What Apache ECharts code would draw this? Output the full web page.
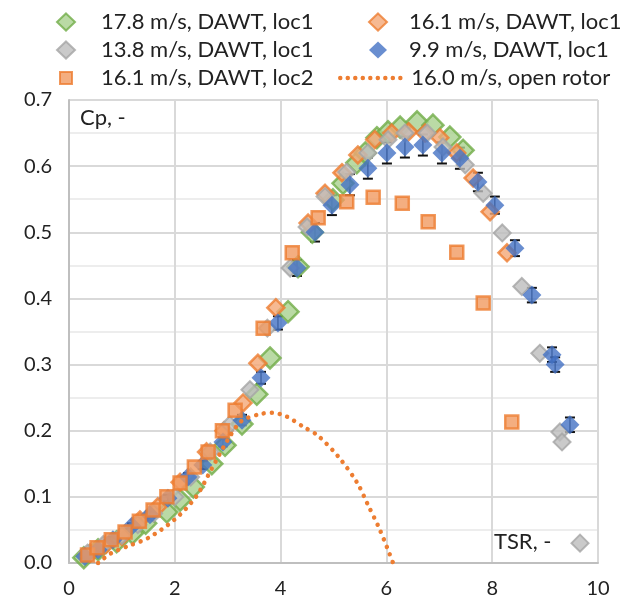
<!DOCTYPE html>
<html>
<head>
<meta charset="utf-8">
<script src="https://cdn.jsdelivr.net/npm/echarts@6/dist/echarts.min.js"></script>
<style>
html,body{margin:0;padding:0;background:#fff;}
#chart{width:633px;height:608px;}
</style>
</head>
<body>
<div id="chart"></div>
<script>
// ---- data (TSR, Cp) ----
const greenTSR = [0.28, 0.55, 0.9, 1.2, 1.45, 1.85, 2.1, 2.35, 2.7, 2.95, 3.27, 3.55, 3.8, 4.14, 4.33, 4.6, 4.99, 5.18, 5.44, 5.6, 5.82, 6.03, 6.26, 6.58, 6.88, 7.2, 7.45];
const greenCp  = [0.008, 0.02, 0.032, 0.045, 0.06, 0.077, 0.095, 0.115, 0.15, 0.178, 0.21, 0.255, 0.31, 0.38, 0.448, 0.5, 0.549, 0.574, 0.605, 0.62, 0.643, 0.652, 0.659, 0.667, 0.662, 0.644, 0.624];

const orangeTSR = [0.4, 0.7, 1.0, 1.34, 1.68, 2.1, 2.6, 2.93, 3.29, 3.57, 3.91, 4.52, 4.84, 5.16, 5.46, 5.78, 6.1, 6.42, 6.73, 7.01, 7.33, 7.64, 7.96, 8.28];
const orangeCp  = [0.015, 0.028, 0.04, 0.065, 0.085, 0.122, 0.168, 0.2, 0.242, 0.302, 0.386, 0.514, 0.559, 0.59, 0.617, 0.64, 0.65, 0.652, 0.65, 0.643, 0.62, 0.582, 0.531, 0.469];

const grayTSR = [0.35, 0.65, 1.0, 1.3, 1.6, 2.0, 2.3, 2.67, 3.04, 3.42, 3.75, 4.18, 4.5, 4.84, 5.25, 5.65, 6.03, 6.35, 6.77, 7.07, 7.49, 7.83, 8.19, 8.56, 8.9, 9.28, 9.32, 9.66];
const grayCp  = [0.015, 0.028, 0.042, 0.058, 0.075, 0.1, 0.13, 0.168, 0.209, 0.262, 0.355, 0.446, 0.508, 0.554, 0.591, 0.62, 0.64, 0.65, 0.65, 0.629, 0.602, 0.559, 0.499, 0.418, 0.317, 0.198, 0.183, 0.03];

const blueTSR = [0.3, 0.55, 0.83, 1.19, 1.53, 1.87, 2.25, 2.53, 2.91, 3.27, 3.63, 3.95, 4.31, 4.65, 4.97, 5.31, 5.65, 6.01, 6.35, 6.69, 7.05, 7.39, 7.73, 8.05, 8.43, 8.75, 9.13, 9.19, 9.47];
const blueCp  = [0.01, 0.02, 0.035, 0.056, 0.073, 0.098, 0.13, 0.148, 0.183, 0.216, 0.28, 0.363, 0.446, 0.5, 0.541, 0.572, 0.597, 0.62, 0.629, 0.632, 0.62, 0.612, 0.576, 0.541, 0.476, 0.405, 0.315, 0.3, 0.209];
const blueErr = [0.003, 0.003, 0.004, 0.004, 0.005, 0.005, 0.006, 0.006, 0.007, 0.008, 0.009, 0.01, 0.012, 0.014, 0.015, 0.016, 0.016, 0.016, 0.016, 0.016, 0.016, 0.016, 0.014, 0.013, 0.012, 0.011, 0.011, 0.011, 0.011];

const squareTSR = [0.35, 0.53, 0.8, 1.06, 1.33, 1.59, 1.85, 2.1, 2.37, 2.63, 2.9, 3.14, 3.67, 4.22, 4.71, 5.25, 5.75, 6.3, 6.79, 7.33, 7.83, 8.37];
const squareCp  = [0.012, 0.023, 0.035, 0.047, 0.063, 0.08, 0.1, 0.121, 0.145, 0.168, 0.2, 0.231, 0.355, 0.469, 0.522, 0.546, 0.553, 0.544, 0.516, 0.47, 0.393, 0.213];

const rotorTSR = [0.55, 0.8, 1.1, 1.5, 2.0, 2.4, 2.7, 3.0, 3.25, 3.6, 3.85, 4.1, 4.45, 4.7, 5.1, 5.45, 5.65, 5.85, 6.02, 6.15];
const rotorCp  = [0.0, 0.015, 0.025, 0.038, 0.066, 0.1, 0.143, 0.186, 0.214, 0.225, 0.227, 0.222, 0.205, 0.193, 0.16, 0.121, 0.088, 0.055, 0.022, -0.005];

const names = ['17.8 m/s, DAWT, loc1', '16.1 m/s, DAWT, loc1', '13.8 m/s, DAWT, loc1', '9.9 m/s, DAWT, loc1', '16.1 m/s, DAWT, loc2', '16.0 m/s, open rotor'];
const xTicks = {min: 0, max: 10, interval: 2};
const yTicks = {min: 0, max: 0.7, interval: 0.1};

function pairs(xs, ys) { return xs.map((x, i) => [x, ys[i]]); }

const FONT = 'Lato';
const chart = echarts.init(document.getElementById('chart'));
function legendOf(left, top, data, itemWidth, itemHeight, padLeft) {
  return {
    orient: 'vertical', left: left, top: top, itemWidth: itemWidth, itemHeight: itemHeight, itemGap: 6,
    textStyle: {fontFamily: FONT, fontSize: 22, lineHeight: 22, color: '#222', padding: [0, 0, 0, padLeft]},
    selectedMode: false, data: data
  };
}
chart.setOption({
  animation: false,
  grid: {left: 69, right: 35, top: 100, bottom: 45},
  legend: [
    legendOf(51, 6, [names[0], names[2]], 18, 17, 21),
    legendOf(54, 62, [names[4]], 12, 12, 24),
    legendOf(363, 6, [names[1], names[3]], 18, 17, 17),
    legendOf(333, 62, [{name: names[5], itemStyle: {opacity: 0},
      lineStyle: {width: 4.5, color: '#ED7D31', type: [0.01, 7.5], cap: 'round'}}], 66, 17, 0)
  ],
  xAxis: {
    type: 'value', min: xTicks.min, max: xTicks.max, interval: xTicks.interval,
    axisLine: {show: true, lineStyle: {color: '#BFBFBF', width: 2}},
    axisTick: {show: false},
    axisLabel: {fontFamily: FONT, fontSize: 20, color: '#222', margin: 16},
    splitLine: {show: true, lineStyle: {color: '#D9D9D9', width: 2}}
  },
  yAxis: {
    type: 'value', min: yTicks.min, max: yTicks.max, interval: yTicks.interval,
    axisLine: {show: true, lineStyle: {color: '#BFBFBF', width: 2}},
    axisTick: {show: false},
    axisLabel: {fontFamily: FONT, fontSize: 20, color: '#222', margin: 17, formatter: v => v.toFixed(1)},
    splitLine: {show: true, lineStyle: {color: '#D9D9D9', width: 2}},
    minorTick: {show: false, splitNumber: 2},
    minorSplitLine: {show: true, lineStyle: {color: '#EDEDED', width: 2}}
  },
  graphic: [
    {type: 'text', left: 80, top: 107, style: {text: 'Cp, -', font: '22px ' + FONT, fill: '#222'}},
    {type: 'text', left: 494, top: 531, style: {text: 'TSR, -', font: '22px ' + FONT, fill: '#222'}}
  ],
  series: [
    {name: names[0], type: 'scatter', symbol: 'diamond', symbolSize: 21, data: pairs(greenTSR, greenCp),
     itemStyle: {color: '#A9D18E', borderColor: '#70AD47', borderWidth: 2.5}},
    {name: names[1], type: 'scatter', symbol: 'diamond', symbolSize: 17, data: pairs(orangeTSR, orangeCp),
     itemStyle: {color: '#F4A877', borderColor: '#ED7D31', borderWidth: 2.5}},
    {name: names[2], type: 'scatter', symbol: 'diamond', symbolSize: 17, data: pairs(grayTSR, grayCp),
     itemStyle: {color: '#BDBDBD', borderColor: '#A5A5A5', borderWidth: 2}},
    {type: 'custom', data: blueTSR.map((x, i) => [x, blueCp[i], blueErr[i]]), silent: true,
     renderItem: (params, api) => {
       const x = api.value(0), y = api.value(1), e = api.value(2);
       const lo = api.coord([x, y - e]), hi = api.coord([x, y + e]);
       const c = 5;
       return {type: 'group', children: [
         {type: 'line', shape: {x1: lo[0], y1: lo[1], x2: hi[0], y2: hi[1]}, style: {stroke: '#111', lineWidth: 1.2}},
         {type: 'line', shape: {x1: lo[0]-c, y1: lo[1], x2: lo[0]+c, y2: lo[1]}, style: {stroke: '#111', lineWidth: 2}},
         {type: 'line', shape: {x1: hi[0]-c, y1: hi[1], x2: hi[0]+c, y2: hi[1]}, style: {stroke: '#111', lineWidth: 2}}
       ]};
     }},
    {name: names[3], type: 'scatter', symbol: 'diamond', symbolSize: 19, data: pairs(blueTSR, blueCp),
     itemStyle: {color: '#4472C4'}},
    {name: names[4], type: 'scatter', symbol: 'rect', symbolSize: 13, data: pairs(squareTSR, squareCp),
     itemStyle: {color: '#F19A60', borderColor: '#ED7D31', borderWidth: 2.5}},
    {name: names[5], type: 'line', data: pairs(rotorTSR, rotorCp), symbol: 'none', showSymbol: false, smooth: 0.3, clip: false,
     lineStyle: {color: '#ED7D31', width: 4.5, type: [0.01, 8], cap: 'round'},
     itemStyle: {color: '#ED7D31'}}
  ]
});
</script>
</body>
</html>
